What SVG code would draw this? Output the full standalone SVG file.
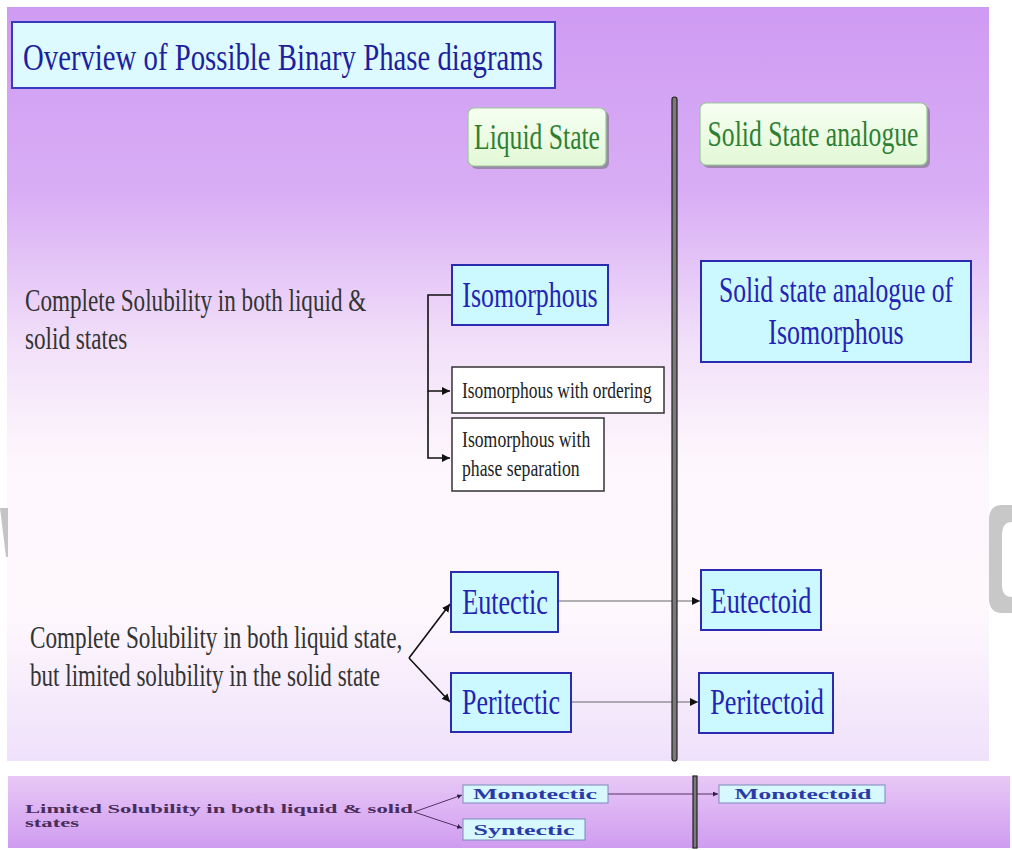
<svg xmlns="http://www.w3.org/2000/svg" width="1012" height="850" viewBox="0 0 1012 850">
<defs>
<linearGradient id="bgMain" x1="0" y1="0" x2="0" y2="1">
<stop offset="0" stop-color="#cf9bf3"/>
<stop offset="0.25" stop-color="#d9aef5"/>
<stop offset="0.45" stop-color="#f2e0f9"/>
<stop offset="0.6" stop-color="#fdf6fc"/>
<stop offset="0.8" stop-color="#fef8fd"/>
<stop offset="1" stop-color="#efe1fb"/>
</linearGradient>
<linearGradient id="bgStrip" x1="0" y1="0" x2="0" y2="1">
<stop offset="0" stop-color="#e8c8f6"/>
<stop offset="1" stop-color="#cf9cf0"/>
</linearGradient>
<linearGradient id="greenFill" x1="0" y1="0" x2="0" y2="1">
<stop offset="0" stop-color="#f6fff2"/>
<stop offset="1" stop-color="#e2f8d6"/>
</linearGradient>
<marker id="ah" viewBox="0 0 10 10" refX="10" refY="5" markerWidth="8" markerHeight="8" markerUnits="userSpaceOnUse" orient="auto">
<path d="M0,0 L10,5 L0,10 z" fill="#111"/>
</marker>
<marker id="ahs" viewBox="0 0 10 10" refX="10" refY="5" markerWidth="5" markerHeight="5" markerUnits="userSpaceOnUse" orient="auto">
<path d="M0,0 L10,5 L0,10 z" fill="#332244"/>
</marker>
</defs>
<style>
.serif{font-family:"Liberation Serif","Times New Roman",serif;}
.title{font-size:38px;fill:#1e1e9e;}
.green{font-size:36px;fill:#2f7f33;}
.blue{font-size:36px;fill:#2323b4;}
.left{font-size:32px;fill:#333333;}
.small{font-size:23px;fill:#222222;}
.tiny{font-size:13px;font-weight:bold;fill:#4a2c5a;}
.tinyblue{font-size:14px;font-weight:bold;fill:#2a3aa8;}
.cyan{fill:#ccf8ff;stroke:#2b2bb0;stroke-width:2;}
.white{fill:#ffffff;stroke:#333333;stroke-width:1.5;}
.gbox{fill:url(#greenFill);stroke:#9ac79a;stroke-width:1.2;}
.shadow{fill:#6a6a6a;opacity:0.55;}
.conn{fill:none;stroke:#111;stroke-width:1.6;}
.connG{fill:none;stroke:#666;stroke-width:1.2;}
.connS{fill:none;stroke:#553366;stroke-width:1;}
.vline{fill:#7a7a7a;stroke:#222222;stroke-width:1.2;}
</style>
<rect x="0" y="0" width="1012" height="850" fill="#ffffff"/>
<rect x="7" y="7" width="982" height="754" fill="url(#bgMain)"/>
<rect x="8" y="776" width="1002" height="72" fill="url(#bgStrip)"/>
<polygon points="0,508 8,508 8,557 6,557" fill="#c4c4c4"/>
<path d="M1012,505 L1002,505 Q989,505 989,520 L989,598 Q989,613 1002,613 L1012,613 L1012,597 Q1002,597 1002,585 L1002,535 Q1002,522 1012,522 Z" fill="#c8c8c8"/>

<g id="title">
<rect x="12" y="22" width="543" height="66" fill="#dcfaff" stroke="#3a3ac0" stroke-width="2"/>
<text class="serif title" transform="translate(23,70) scale(0.72,1)" textLength="722" lengthAdjust="spacingAndGlyphs">Overview of Possible Binary Phase diagrams</text>
</g>

<g id="connectors">
<path class="conn" d="M452,295 H428 V391 H450" marker-end="url(#ah)"/>
<path class="conn" d="M428,391 V458 H450" marker-end="url(#ah)"/>
<path class="conn" d="M409,658 L450,604" marker-end="url(#ah)" stroke="#333"/>
<path class="conn" d="M409,658 L450,702" marker-end="url(#ah)" stroke="#333"/>
<path class="connG" d="M558,601 L700,601" marker-end="url(#ah)"/>
<path class="connG" d="M571,702 L698,702" marker-end="url(#ah)"/>
<path class="connS" d="M414,812 L462,795" marker-end="url(#ahs)"/>
<path class="connS" d="M414,812 L462,828" marker-end="url(#ahs)"/>
<path class="connS" d="M608,794 L718,794" marker-end="url(#ahs)"/>
</g>

<g id="divider">
<rect class="vline" x="672" y="97" width="5" height="664" rx="2.5"/>
<rect class="vline" x="693" y="776" width="4" height="72"/>
</g>

<g id="liquid-state">
<rect class="shadow" x="471" y="111" width="138" height="58" rx="6"/>
<rect class="gbox" x="468" y="108" width="138" height="58" rx="6"/>
<text class="serif green" transform="translate(537,149) scale(0.72,1)" text-anchor="middle" textLength="175" lengthAdjust="spacingAndGlyphs">Liquid State</text>
</g>

<g id="solid-state">
<rect class="shadow" x="703" y="106" width="227" height="62" rx="6"/>
<rect class="gbox" x="700" y="103" width="227" height="62" rx="6"/>
<text class="serif green" transform="translate(813,146) scale(0.72,1)" text-anchor="middle" textLength="293" lengthAdjust="spacingAndGlyphs">Solid State analogue</text>
</g>

<g id="left-complete">
<text class="serif left" transform="translate(25,311) scale(0.72,1)" textLength="474" lengthAdjust="spacingAndGlyphs">Complete Solubility in both liquid &amp;</text>
<text class="serif left" transform="translate(25,349) scale(0.72,1)" textLength="142" lengthAdjust="spacingAndGlyphs">solid states</text>
</g>

<g id="isomorphous">
<rect class="cyan" x="452" y="265" width="156" height="60"/>
<text class="serif blue" transform="translate(530,307) scale(0.72,1)" text-anchor="middle" textLength="188" lengthAdjust="spacingAndGlyphs">Isomorphous</text>
</g>

<g id="solid-iso">
<rect class="cyan" x="701" y="261" width="270" height="101"/>
<text class="serif blue" transform="translate(836,302) scale(0.72,1)" text-anchor="middle" textLength="325" lengthAdjust="spacingAndGlyphs">Solid state analogue of</text>
<text class="serif blue" transform="translate(836,344) scale(0.72,1)" text-anchor="middle" textLength="188" lengthAdjust="spacingAndGlyphs">Isomorphous</text>
</g>

<g id="iso-ordering">
<rect class="white" x="452" y="367" width="212" height="46"/>
<text class="serif small" transform="translate(462,398) scale(0.75,1)" textLength="253" lengthAdjust="spacingAndGlyphs">Isomorphous with ordering</text>
</g>

<g id="iso-phase-sep">
<rect class="white" x="452" y="418" width="152" height="73"/>
<text class="serif small" transform="translate(462,447) scale(0.75,1)" textLength="171" lengthAdjust="spacingAndGlyphs">Isomorphous with</text>
<text class="serif small" transform="translate(462,476) scale(0.75,1)" textLength="157" lengthAdjust="spacingAndGlyphs">phase separation</text>
</g>

<g id="left-limited">
<text class="serif left" transform="translate(30,648) scale(0.72,1)" textLength="517" lengthAdjust="spacingAndGlyphs">Complete Solubility in both liquid state,</text>
<text class="serif left" transform="translate(30,686) scale(0.72,1)" textLength="486" lengthAdjust="spacingAndGlyphs">but limited solubility in the solid state</text>
</g>

<g id="eutectic">
<rect class="cyan" x="451" y="572" width="107" height="60"/>
<text class="serif blue" transform="translate(505,614) scale(0.72,1)" text-anchor="middle" textLength="119" lengthAdjust="spacingAndGlyphs">Eutectic</text>
</g>

<g id="peritectic">
<rect class="cyan" x="451" y="673" width="120" height="59"/>
<text class="serif blue" transform="translate(511,714) scale(0.72,1)" text-anchor="middle" textLength="136" lengthAdjust="spacingAndGlyphs">Peritectic</text>
</g>

<g id="eutectoid">
<rect class="cyan" x="701" y="570" width="120" height="60"/>
<text class="serif blue" transform="translate(761,613) scale(0.72,1)" text-anchor="middle" textLength="140" lengthAdjust="spacingAndGlyphs">Eutectoid</text>
</g>

<g id="peritectoid">
<rect class="cyan" x="699" y="673" width="134" height="60"/>
<text class="serif blue" transform="translate(767,714) scale(0.72,1)" text-anchor="middle" textLength="158" lengthAdjust="spacingAndGlyphs">Peritectoid</text>
</g>

<g id="left-strip">
<text class="serif tiny" x="25" y="813" textLength="388" lengthAdjust="spacingAndGlyphs">Limited Solubility in both liquid &amp; solid</text>
<text class="serif tiny" x="25" y="827" textLength="54" lengthAdjust="spacingAndGlyphs">states</text>
</g>

<g id="monotectic">
<rect x="463" y="785" width="145" height="18" fill="#d8f8ff" stroke="#7a8ab8" stroke-width="1"/>
<text class="serif tinyblue" x="535" y="799" text-anchor="middle" textLength="124" lengthAdjust="spacingAndGlyphs">Monotectic</text>
</g>

<g id="syntectic">
<rect x="463" y="819" width="122" height="21" fill="#d8f8ff" stroke="#7a8ab8" stroke-width="1"/>
<text class="serif tinyblue" x="524" y="835" text-anchor="middle" textLength="101" lengthAdjust="spacingAndGlyphs">Syntectic</text>
</g>

<g id="monotectoid">
<rect x="719" y="785" width="166" height="18" fill="#d8f8ff" stroke="#7a8ab8" stroke-width="1"/>
<text class="serif tinyblue" x="803" y="799" text-anchor="middle" textLength="137" lengthAdjust="spacingAndGlyphs">Monotectoid</text>
</g>
</svg>
